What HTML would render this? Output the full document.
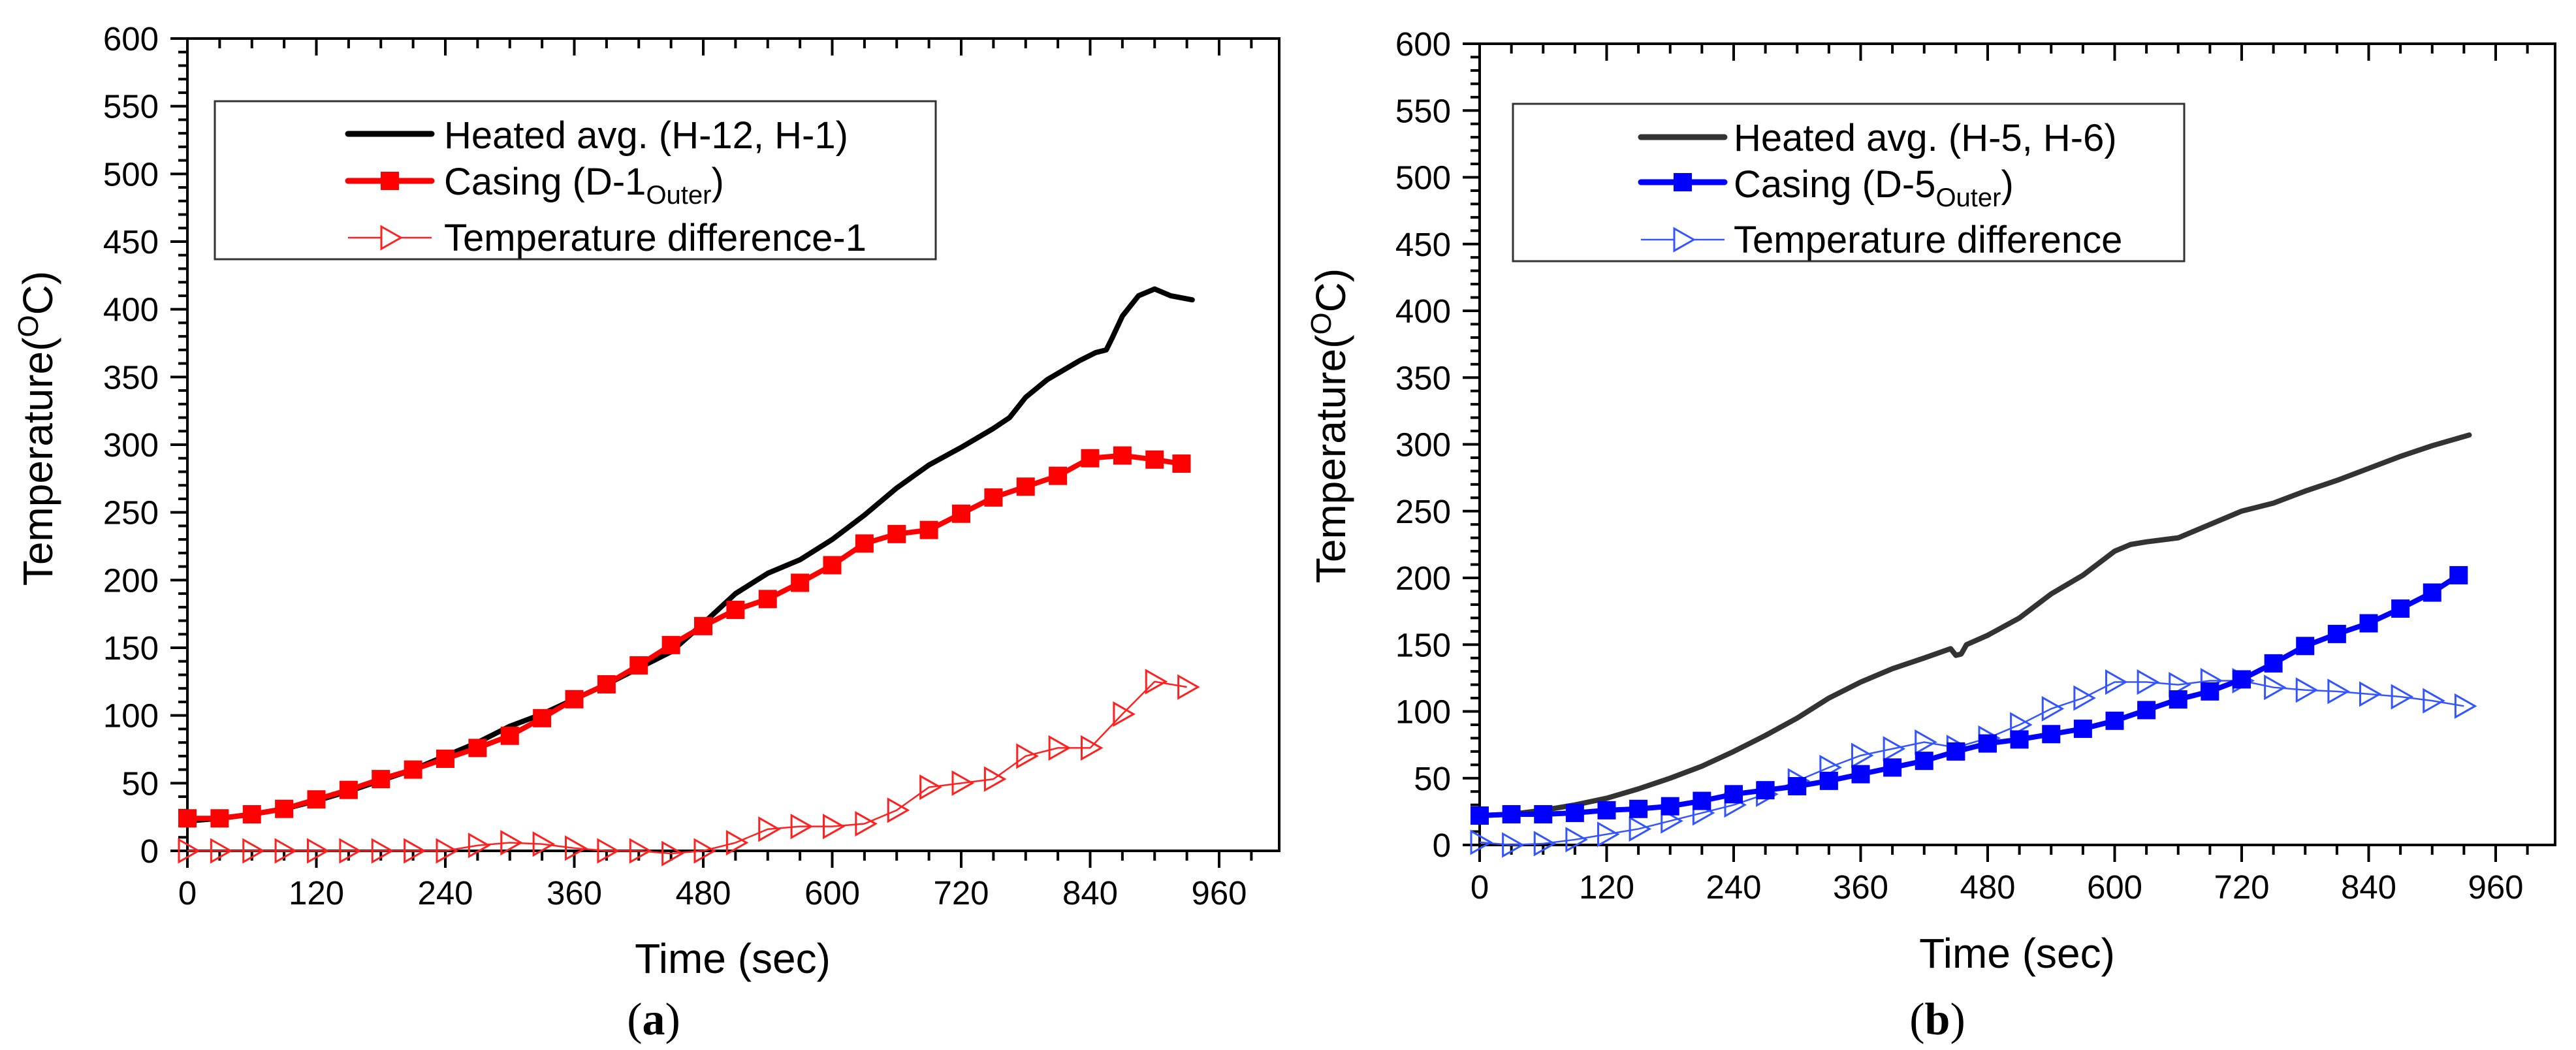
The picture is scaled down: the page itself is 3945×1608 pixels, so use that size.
<!DOCTYPE html>
<html><head><meta charset="utf-8">
<style>
html,body{margin:0;padding:0;background:#fff;}
svg{display:block;font-family:"Liberation Sans",Arial,sans-serif;}
</style></head>
<body>
<svg id="fig" width="3945" height="1608" viewBox="0 0 3945 1608" xmlns="http://www.w3.org/2000/svg">
<rect x="0" y="0" width="3945" height="1608" fill="#fff"/>
<g id="pa"></g>
<g id="pb"></g>
</svg>
<script>
// ---------- Panel (a) data ----------
const xTickLabels = [0,120,240,360,480,600,720,840,960];
const yTickLabels = [0,50,100,150,200,250,300,350,400,450,500,550,600];

const aHeatedT = [0,30,60,90,120,150,180,210,240,270,300,330,360,390,420,450,480,510,540,570,600,630,660,690,720,750,765,780,800,830,845,855,860,870,885,900,915,935];
const aHeatedV = [22,24,27,31,37,44,52,60,70,80,92,101,112,123,135,147,168,190,205,215,230,248,268,285,298,312,320,335,348,362,368,370,378,395,410,415,410,407];
const aCasingT = [0,30,60,90,120,150,180,210,240,270,300,330,360,390,420,450,480,510,540,570,600,630,660,690,720,750,780,810,840,870,900,925];
const aCasingV = [24,24,27,31,38,45,53,60,68,76,85,98,112,123,137,152,166,178,186,198,211,227,234,237,249,261,269,277,290,292,289,286];
const aDiffT = [0,30,60,90,120,150,180,210,240,270,300,330,360,390,420,450,480,510,540,570,600,630,660,690,720,750,780,810,840,870,900,930];
const aDiffV = [0,0,0,0,0,0,0,0,0,4,6,5,2,0,0,-2,0,6,16,18,18,20,30,47,50,53,70,76,76,101,125,121];

// ---------- Panel (b) data ----------
const bHeatedT = [0,30,60,90,120,150,180,210,240,270,300,330,360,390,420,445,450,455,460,480,510,540,570,600,615,630,660,690,720,750,780,810,840,870,900,935];
const bHeatedV = [22,23,26,30,35,42,50,59,70,82,95,110,122,132,140,147,142,143,150,157,170,188,202,220,225,227,230,240,250,256,265,273,282,291,299,307];
const bCasingT = [0,30,60,90,120,150,180,210,240,270,300,330,360,390,420,450,480,510,540,570,600,630,660,690,720,750,780,810,840,870,900,925];
const bCasingV = [22,23,23,24,26,27,29,33,38,41,44,48,53,58,63,70,76,79,83,87,93,101,109,115,124,136,149,158,166,177,189,202];
const bDiffT = [0,30,60,90,120,150,180,210,240,270,300,330,360,390,420,450,480,510,540,570,600,630,660,690,720,750,780,810,840,870,900,930];
const bDiffV = [2,0,1,4,8,12,18,24,30,38,48,58,67,72,77,73,80,90,102,110,122,122,120,123,123,118,116,115,113,111,108,104];

const NS = "http://www.w3.org/2000/svg";
function mk(parent, tag, attrs){
  const e = document.createElementNS(NS, tag);
  for (const k in attrs) e.setAttribute(k, attrs[k]);
  parent.appendChild(e);
  return e;
}

function drawPanel(g, cfg){
  const X = t => cfg.x0 + (t/960)*(cfg.x960 - cfg.x0);
  const Y = v => cfg.y0 - (v/600)*(cfg.y0 - cfg.y600);
  const frame = mk(g,'rect',{x:cfg.x0,y:cfg.y600,width:cfg.xr-cfg.x0,height:cfg.y0-cfg.y600,fill:'none',stroke:'#000','stroke-width':4});
  
  
  for (let t=0; t<=990; t+=30){
    const major = (t%120===0);
    const x = X(t);
    const tk = mk(g,'line',{x1:x,y1:cfg.y0,x2:x,y2:cfg.y0+(major?26:15),stroke:'#000','stroke-width':4});
    
    
    const tt = mk(g,'line',{x1:x,y1:cfg.y600,x2:x,y2:cfg.y600+(major?26:15),stroke:'#000','stroke-width':4});
    
    
  }
  xTickLabels.forEach(v=>{
    const tx = mk(g,'text',{x:X(v),y:cfg.y0+82,'font-size':51,'text-anchor':'middle',fill:'#000'});
    tx.textContent = v;
    
    
  });
  for (let v=0; v<=600; v+=10){
    const major = (v%50===0);
    const y = Y(v);
    const tk = mk(g,'line',{x1:cfg.x0,y1:y,x2:cfg.x0-(major?26:14),y2:y,stroke:'#000','stroke-width':4});
    
    
  }
  yTickLabels.forEach(v=>{
    const ty = mk(g,'text',{x:cfg.x0-44,y:Y(v)+18,'font-size':51,'text-anchor':'end',fill:'#000'});
    ty.textContent = v;
    
    
  });
  const xt = mk(g,'text',{x:cfg.xTitleX,y:cfg.xTitleY,'font-size':64,'text-anchor':'middle',fill:'#000'});
  xt.textContent = 'Time (sec)';
  
  
  const yt = mk(g,'text',{x:0,y:0,'font-size':64,'text-anchor':'middle',fill:'#000',transform:`translate(${cfg.yTitleX},${cfg.yTitleY}) rotate(-90)`});
  yt.innerHTML = 'Temperature(<tspan dy="-22" font-size="44">O</tspan><tspan dy="22">C)</tspan>';
  
  
  const cap = mk(g,'text',{x:cfg.capX,y:1584,'font-size':70,'text-anchor':'middle',fill:'#000','font-family':'"Liberation Serif",serif'});
  cap.innerHTML = '(<tspan font-weight="bold">'+cfg.cap+'</tspan>)';
  
  

  const hp = cfg.hT.map((t,i)=>X(t)+','+Y(cfg.hV[i])).join(' ');
  const hl = mk(g,'polyline',{points:hp,fill:'none',stroke:cfg.hColor,'stroke-width':8,'stroke-linejoin':'round','stroke-linecap':'round'});
  
  
  const dp = cfg.dT.map((t,i)=>X(t)+','+Y(cfg.dV[i])).join(' ');
  const dl = mk(g,'polyline',{points:dp,fill:'none',stroke:cfg.dColor,'stroke-width':2.5});
  
  
  cfg.dT.forEach((t,i)=>{
    const x=X(t), y=Y(cfg.dV[i]);
    const tri = mk(g,'polygon',{points:`${x-13},${y-17} ${x+17},${y} ${x-13},${y+17}`,fill:'none',stroke:cfg.dColor,'stroke-width':3});
    
    
  });
  const cp = cfg.cT.map((t,i)=>X(t)+','+Y(cfg.cV[i])).join(' ');
  const cl = mk(g,'polyline',{points:cp,fill:'none',stroke:cfg.cColor,'stroke-width':8,'stroke-linejoin':'round'});
  
  
  cfg.cT.forEach((t,i)=>{
    const sq = mk(g,'rect',{x:X(t)-14,y:Y(cfg.cV[i])-14,width:28,height:28,fill:cfg.cColor});
    
    
  });

  const L = cfg.leg;
  const box = mk(g,'rect',{x:L.x,y:L.y,width:L.w,height:L.h,fill:'#fff',stroke:'#333','stroke-width':3});
  
  
  const l1 = mk(g,'line',{x1:L.lx1,y1:L.r[0],x2:L.lx2,y2:L.r[0],stroke:cfg.hColor,'stroke-width':9,'stroke-linecap':'round'});
  
  
  const l2 = mk(g,'line',{x1:L.lx1,y1:L.r[1],x2:L.lx2,y2:L.r[1],stroke:cfg.cColor,'stroke-width':9,'stroke-linecap':'round'});
  
  
  const mx=(L.lx1+L.lx2)/2;
  const l2m = mk(g,'rect',{x:mx-14,y:L.r[1]-14,width:28,height:28,fill:cfg.cColor});
  
  
  const l3 = mk(g,'line',{x1:L.lx1,y1:L.r[2],x2:L.lx2,y2:L.r[2],stroke:cfg.dColor,'stroke-width':2.5});
  
  
  const l3m = mk(g,'polygon',{points:`${mx-13},${L.r[2]-17} ${mx+17},${L.r[2]} ${mx-13},${L.r[2]+17}`,fill:'#fff',stroke:cfg.dColor,'stroke-width':3});
  
  
  const t1 = mk(g,'text',{x:L.tx,y:L.b[0],'font-size':58,fill:'#000'});
  t1.textContent = cfg.names[0];
  
  
  const t2 = mk(g,'text',{x:L.tx,y:L.b[1],'font-size':58,fill:'#000'});
  t2.innerHTML = cfg.names[1]+'<tspan dy="14" font-size="40">Outer</tspan><tspan dy="-14">)</tspan>';
  
  
  const t3 = mk(g,'text',{x:L.tx,y:L.b[2],'font-size':58,fill:'#000'});
  t3.textContent = cfg.names[2];
  
  
}

drawPanel(document.getElementById('pa'),{
  x0:287,x960:1867,xr:1959,y0:1303,y600:59,
  xTitleX:1122,xTitleY:1490,yTitleX:80,yTitleY:656,capX:1001,cap:'a',
  hT:aHeatedT,hV:aHeatedV,cT:aCasingT,cV:aCasingV,dT:aDiffT,dV:aDiffV,
  hColor:'#000',cColor:'#ff0000',dColor:'#ff2020',
  names:['Heated avg. (H-12, H-1)','Casing (D-1','Temperature difference-1'],
  leg:{x:329,y:155,w:1104,h:242,lx1:533,lx2:661,tx:680,r:[205,277,364],b:[227,298,384]}
});
drawPanel(document.getElementById('pb'),{
  x0:2266,x960:3822,xr:3913,y0:1294,y600:67,
  xTitleX:3089,xTitleY:1482,yTitleX:2060,yTitleY:652,capX:2967,cap:'b',
  hT:bHeatedT,hV:bHeatedV,cT:bCasingT,cV:bCasingV,dT:bDiffT,dV:bDiffV,
  hColor:'#333',cColor:'#0000ff',dColor:'#3355ff',
  names:['Heated avg. (H-5, H-6)','Casing (D-5','Temperature difference'],
  leg:{x:2317,y:159,w:1028,h:241,lx1:2513,lx2:2641,tx:2655,r:[210,279,367],b:[231,302,387]}
});
</script>
</body></html>
